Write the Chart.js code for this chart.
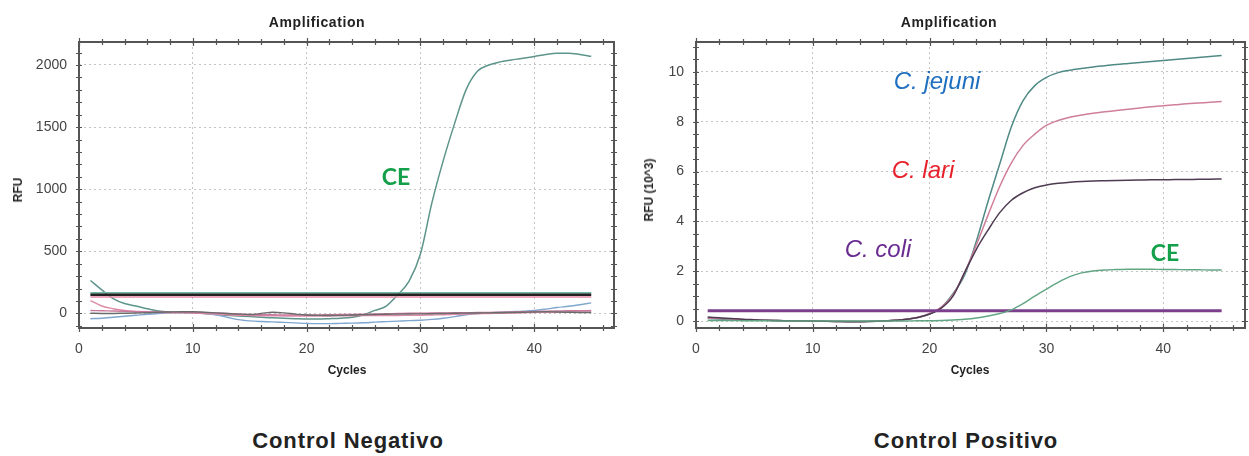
<!DOCTYPE html>
<html><head><meta charset="utf-8">
<script src="https://cdn.jsdelivr.net/npm/chart.js@4.4.1/dist/chart.umd.min.js"></script>
<style>
html,body{margin:0;padding:0;background:#fff}
body{width:1249px;height:456px;overflow:hidden;position:relative;font-family:"Liberation Sans",Arial,sans-serif}
canvas{position:absolute;top:0}
.t{position:absolute;white-space:nowrap;transform:translate(-50%,-50%);line-height:1}
.ttl{font-weight:bold;font-size:14px;color:#222;letter-spacing:0.6px}
.ax{font-weight:bold;font-size:12px;color:#222}
.rot{transform:translate(-50%,-50%) rotate(-90deg)}
.ann{font-family:"Liberation Sans",Arial,sans-serif;font-style:italic;font-size:24px}
.ce{font-family:Lato,"Liberation Sans",sans-serif;font-weight:bold;font-size:23px;color:#14a04a}
.cap{font-weight:bold;font-size:22px;color:#222;letter-spacing:0.9px}
</style>
</head><body>
<canvas id="neg" width="630" height="390" style="left:0"></canvas>
<canvas id="pos" width="619" height="390" style="left:630px"></canvas>

<div class="t ttl" style="left:317px;top:22px">Amplification</div>
<div class="t ttl" style="left:949px;top:22px">Amplification</div>
<div class="t ax rot" style="left:18px;top:190px">RFU</div>
<div class="t ax rot" style="left:649px;top:190px">RFU (10^3)</div>
<div class="t ax" style="left:347px;top:370px">Cycles</div>
<div class="t ax" style="left:970px;top:370px">Cycles</div>

<div class="t ce" style="left:396px;top:176px">CE</div>
<div class="t ann" style="left:937px;top:81px;color:#1f6fc0">C. jejuni</div>
<div class="t ann" style="left:923px;top:170px;color:#e8202a">C. lari</div>
<div class="t ann" style="left:878px;top:249px;color:#6a2c91">C. coli</div>
<div class="t ce" style="left:1165px;top:252px">CE</div>

<div class="t cap" style="left:348px;top:441px">Control Negativo</div>
<div class="t cap" style="left:966px;top:441px">Control Positivo</div>

<script>
// ---------- data ----------
const cycles = [1,2,3,4,5,6,7,8,9,10,11,12,13,14,15,16,17,18,19,20,21,22,23,24,25,26,27,28,29,30,31,32,33,34,35,36,37,38,39,40,41,42,43,44,45];
const xTicks = [0,10,20,30,40];

// Control Negativo (RFU)
const negTicks = [0,500,1000,1500,2000];
const negCE   = [265,190,120,80,60,38,20,12,8,5,0,-8,-15,-20,-25,-30,-35,-38,-42,-45,-45,-42,-38,-30,-10,25,60,150,260,480,890,1230,1530,1800,1950,2000,2025,2040,2055,2068,2085,2095,2095,2085,2070];
const negBlue = [-42,-38,-30,-22,-14,-6,0,5,8,8,2,-10,-30,-50,-60,-65,-68,-72,-76,-80,-82,-82,-80,-78,-75,-70,-66,-62,-58,-55,-48,-38,-25,-10,0,5,10,14,18,24,35,48,58,70,85];
const negPink1 = [104,60,38,24,14,10,8,6,5,3,0,-5,-10,-14,-16,-18,-18,-20,-20,-20,-20,-20,-18,-18,-17,-17,-16,-16,-15,-14,-12,-10,-7,-4,-2,0,2,4,6,8,10,10,12,12,12];
const negPink2 = [24,22,20,18,16,14,12,10,10,8,6,4,0,-4,-8,-10,-10,-12,-12,-12,-12,-10,-8,-8,-6,-4,-2,0,2,2,4,4,6,6,8,8,10,12,14,16,18,20,22,22,24];
const negDark = [2,0,0,2,4,6,10,12,14,14,10,5,0,-5,-8,0,10,5,-5,-12,-15,-16,-15,-12,-10,-8,-6,-5,-4,-3,-2,0,2,3,4,5,6,8,10,12,14,12,10,8,8];
const negThrTeal = 168, negThrBlack = 152, negThrPink = 132;

// Control Positivo (RFU x 10^3)
const posTicks = [0,2,4,6,8,10];
const posJejuni = [0.10,0.08,0.06,0.05,0.04,0.03,0.02,0.01,0.0,0.0,-0.01,-0.02,-0.02,-0.02,-0.01,0.0,0.03,0.07,0.14,0.28,0.55,1.1,1.85,3.2,4.8,6.3,7.8,8.85,9.45,9.78,9.97,10.07,10.14,10.2,10.25,10.3,10.34,10.38,10.42,10.46,10.5,10.54,10.58,10.62,10.66];
const posLari   = [0.12,0.1,0.08,0.06,0.04,0.03,0.02,0.01,0.0,0.0,-0.01,-0.02,-0.02,-0.02,-0.01,0.0,0.03,0.07,0.15,0.3,0.56,1.05,1.95,3.05,4.25,5.4,6.35,7.05,7.5,7.85,8.05,8.18,8.27,8.34,8.4,8.45,8.5,8.55,8.6,8.64,8.68,8.72,8.75,8.78,8.81];
const posColi   = [0.16,0.13,0.1,0.07,0.05,0.03,0.02,0.01,0.0,0.0,-0.01,-0.02,-0.03,-0.03,-0.02,0.0,0.03,0.07,0.14,0.28,0.52,1.0,1.95,2.88,3.65,4.35,4.85,5.15,5.35,5.46,5.53,5.57,5.6,5.62,5.63,5.64,5.65,5.66,5.67,5.67,5.68,5.68,5.69,5.69,5.7];
const posCE     = [0.02,0.02,0.02,0.01,0.01,0.01,0.0,0.0,0.0,0.0,0.0,0.0,0.0,0.0,0.0,0.0,0.0,0.0,0.01,0.01,0.02,0.04,0.07,0.12,0.2,0.3,0.45,0.7,1.0,1.28,1.55,1.78,1.93,2.01,2.05,2.07,2.08,2.08,2.08,2.07,2.07,2.06,2.06,2.05,2.05];
const posThr = 0.41;

// ---------- helpers ----------
const pts = arr => arr.map((v,i)=>({x:cycles[i], y:v}));
const flat = v => [{x:cycles[0],y:v},{x:cycles[cycles.length-1],y:v}];
const line = (data,color,w) => ({data, borderColor:color, borderWidth:w, pointRadius:0, fill:false, cubicInterpolationMode:'monotone'});

function framePlugin(xMinor, yMinor){
  return {id:'frame', afterDatasetsDraw(chart){
    const {ctx, chartArea:a, scales:{x,y}} = chart;
    ctx.save();
    ctx.strokeStyle = '#555'; ctx.lineWidth = 1.2;
    ctx.beginPath();
    for(let v=0; v<=x.max+1e-9; v+=xMinor){
      const px = Math.round(x.getPixelForValue(v))+0.5;
      const len = xTicks.includes(v)?4:3;
      ctx.moveTo(px,a.bottom-len); ctx.lineTo(px,a.bottom+len);
      ctx.moveTo(px,a.top-len); ctx.lineTo(px,a.top+len);
    }
    const start = Math.ceil(y.min/yMinor)*yMinor;
    for(let v=start; v<=y.max+1e-9; v+=yMinor){
      const py = Math.round(y.getPixelForValue(v))+0.5;
      ctx.moveTo(a.left-3,py); ctx.lineTo(a.left+3,py);
      ctx.moveTo(a.right-3,py); ctx.lineTo(a.right+3,py);
    }
    ctx.stroke();
    ctx.strokeStyle = '#555'; ctx.lineWidth = 2;
    ctx.strokeRect(a.left, a.top, a.right-a.left, a.bottom-a.top);
    ctx.restore();
  }};
}

function makeChart(id, datasets, yMin, yMax, yTicks, yMinor, yWidth, padRight){
  return new Chart(document.getElementById(id), {
    type:'line',
    data:{datasets},
    options:{
      responsive:false, animation:false, devicePixelRatio:1,
      layout:{padding:{left:0,right:padRight,top:42,bottom:0}},
      plugins:{legend:{display:false}, tooltip:{enabled:false}, title:{display:false}},
      scales:{
        x:{type:'linear', min:0, max:47,
           afterBuildTicks:s=>{s.ticks = xTicks.map(v=>({value:v}));},
           afterFit:s=>{s.height = 62;},
           grid:{color:'#c4c4c4', lineWidth:1, drawTicks:false},
           border:{display:false, dash:[2,3]},
           ticks:{padding:13, color:'#444', font:{family:'Liberation Sans', size:14}, maxRotation:0, callback:v=>String(v)}},
        y:{type:'linear', min:yMin, max:yMax,
           afterBuildTicks:s=>{s.ticks = yTicks.map(v=>({value:v}));},
           afterFit:s=>{s.width = yWidth;},
           grid:{color:'#c4c4c4', lineWidth:1, drawTicks:false},
           border:{display:false, dash:[2,3]},
           ticks:{padding:12, color:'#444', font:{family:'Liberation Sans', size:14}, callback:v=>String(v)}}
      }
    },
    plugins:[framePlugin(2, yMinor)]
  });
}

makeChart('neg', [
  line(flat(negThrTeal), '#6fb8a6', 1.2),
  line(flat(negThrPink), '#e58aa6', 1.5),
  line(flat(negThrBlack), '#222222', 2.6),
  line(pts(negDark), '#6b6b6b', 1.4),
  line(pts(negPink2), '#c9789e', 1.4),
  line(pts(negPink1), '#dd8ba6', 1.4),
  line(pts(negBlue), '#7fa6cf', 1.4),
  line(pts(negCE), '#5d948b', 1.5)
], -117, 2185, negTicks, 100, 79, 16);

makeChart('pos', [
  line(pts(posCE), '#62a583', 1.4),
  line(flat(posThr), '#7b3f8c', 3),
  line(pts(posColi), '#4e3a52', 1.5),
  line(pts(posLari), '#cf7f99', 1.5),
  line(pts(posJejuni), '#4f8a86', 1.5)
], -0.28, 11.2, posTicks, 0.5, 66, 4);
</script>
</body></html>
